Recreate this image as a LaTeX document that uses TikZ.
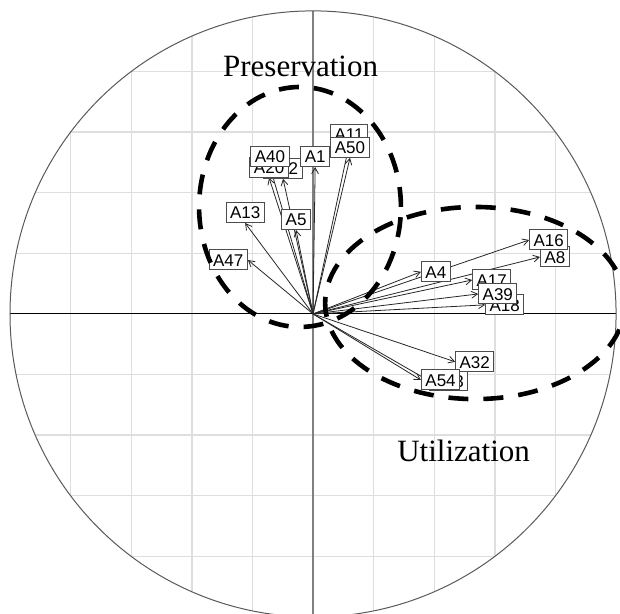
\documentclass[tikz,border=0pt]{standalone}
\usepackage{fontspec}
\setmainfont{Liberation Serif}
\setsansfont{Liberation Sans}
\usepackage{tikz}
\usetikzlibrary{arrows.meta}
\pgfdeclarelayer{back}
\pgfsetlayers{back,main}

\begin{document}
\begin{tikzpicture}[
  x=151.5pt, y=151.5pt,
  lab/.style={draw=black!70, fill=white, line width=0.5pt, inner xsep=2pt, inner ysep=1pt,
    minimum height=10pt, text height=6.2pt, text depth=0pt, font=\sffamily\fontsize{8.5}{9}\selectfont},
  arr/.style={-{Straight Barb[length=3pt, width=3.4pt]}, line width=0.4pt, black!85},
  zone/.style={line width=2.3pt, dash pattern=on 10pt off 7.5pt},
  title/.style={anchor=base, font=\fontsize{15.5}{17}\selectfont},
  gridline/.style={line width=0.7pt, black!13}]
\useasboundingbox (-1.033,-0.990) rectangle (1.013,1.036);
\coordinate (o) at (0,0);
% correlation circle, grid and axes
\begin{pgfonlayer}{back}
\begin{scope}
  \clip (o) circle (1);
  \foreach \g in {-0.8,-0.6,-0.4,-0.2,0.2,0.4,0.6,0.8} {
    \draw[gridline] (\g,-1) -- (\g,1);
    \draw[gridline] (-1,\g) -- (1,\g);
  }
\end{scope}
\draw[line width=1pt, black!50] (0,-1) -- (0,1);
\draw[line width=0.5pt, black] (-1,0) -- (1,0);
\draw[line width=0.5pt, black!65] (o) circle (1);
\end{pgfonlayer}
% variable labels
\foreach \n/\x/\y/\a in {A22/-0.099/0.446/south, A20/-0.145/0.449/south, A40/-0.142/0.485/south,
  A11/0.119/0.558/south, A50/0.122/0.515/south, A1/0.007/0.485/south, A5/-0.056/0.277/south,
  A13/-0.224/0.300/south, A47/-0.215/0.178/east, A4/0.356/0.139/west, A18/0.568/0.030/west,
  A17/0.525/0.112/west, A39/0.545/0.066/west, A8/0.749/0.188/west, A16/0.713/0.244/west,
  A53/0.383/-0.221/west, A32/0.469/-0.158/west, A54/0.356/-0.218/west}
  \node[lab, anchor=\a] (\n) at (\x,\y) {\n};
% loading arrows
\begin{pgfonlayer}{back}
\foreach \n/\a in {A22/south, A20/south, A40/south, A11/south, A50/south, A1/south, A5/south,
  A13/south, A47/east, A4/west, A18/west, A17/west, A39/west, A8/west, A16/west,
  A53/west, A32/west, A54/west}
  \draw[arr] (o) -- (\n.\a);
\end{pgfonlayer}
% groups
\draw[zone] (-0.043,0.353) ellipse [x radius=0.333, y radius=0.396];
\draw[zone] (0.535,0.036) ellipse [x radius=0.495, y radius=0.317];
\node[title] (pres) at (-0.041,0.782) {Preservation};
\node[title] (util) at (0.497,-0.488) {Utilization};
\end{tikzpicture}
\end{document}
